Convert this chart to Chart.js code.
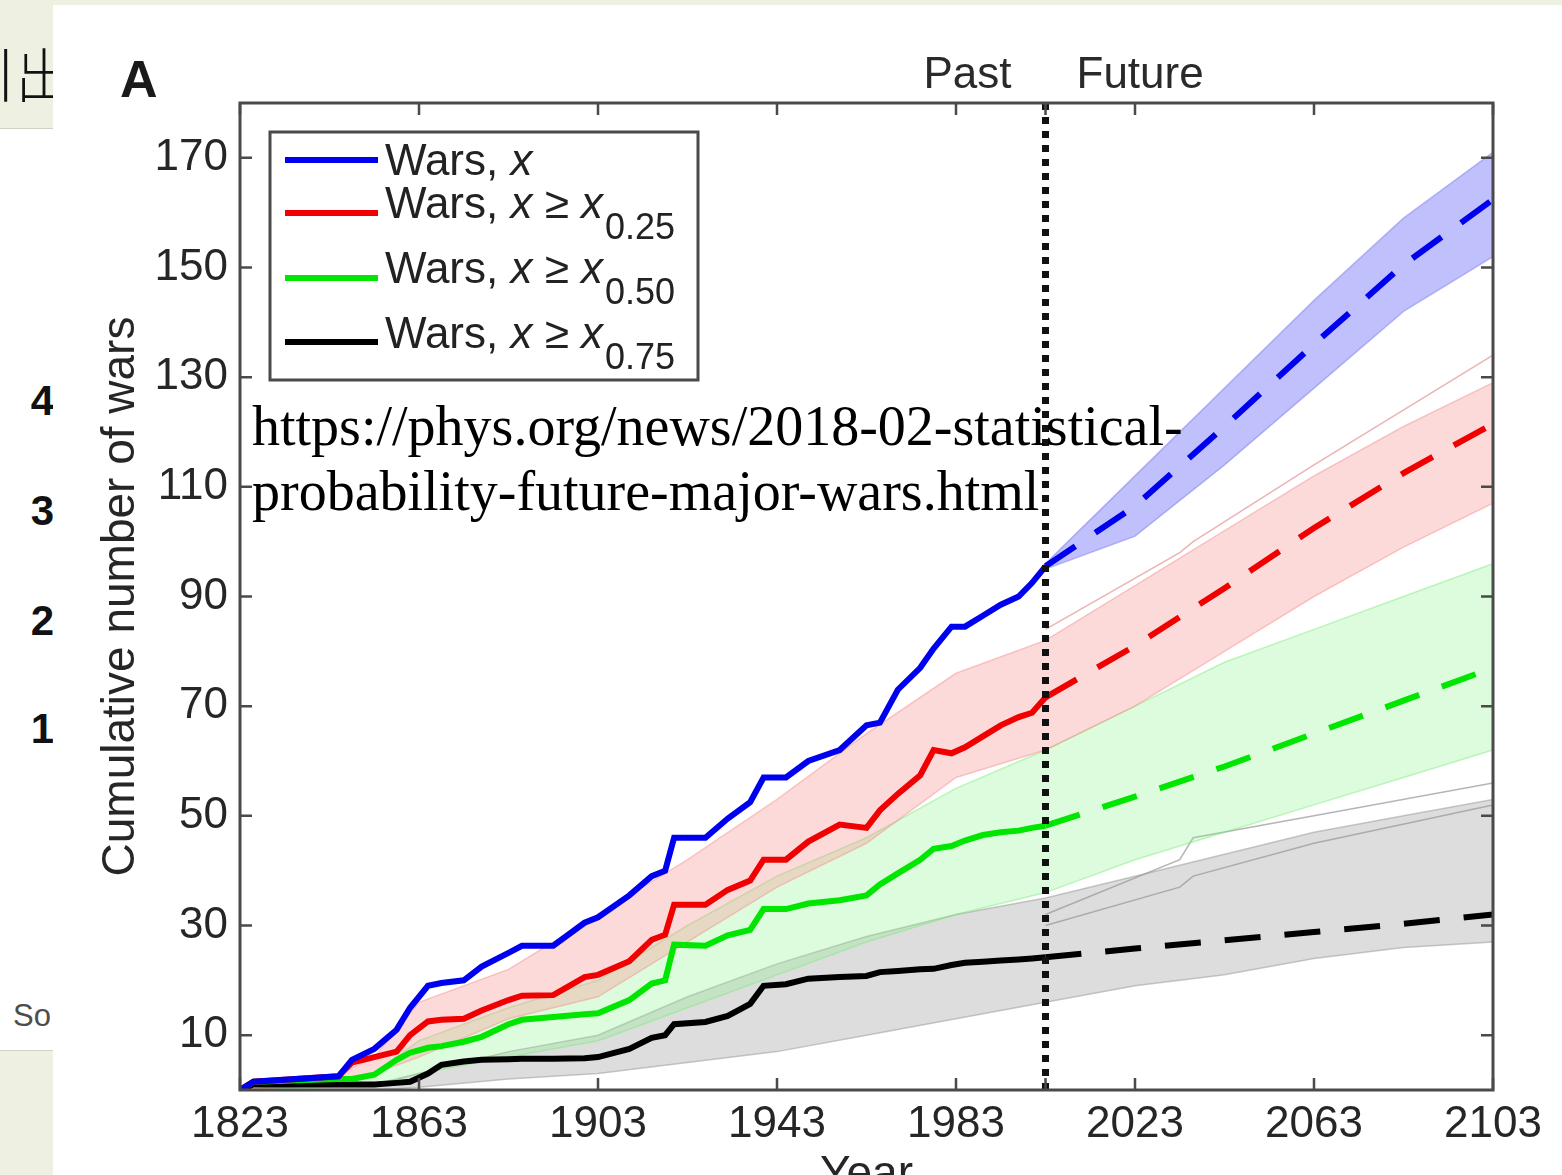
<!DOCTYPE html>
<html lang="en">
<head>
    <meta charset="UTF-8">
    <title>Cumulative number of wars</title>
    <script src="https://cdn.jsdelivr.net/npm/chart.js"></script>
    <style>
        html, body {
            margin: 0;
            padding: 0;
            width: 1562px;
            height: 1175px;
            overflow: hidden;
            background: #ffffff;
            font-family: "Liberation Sans", Arial, sans-serif;
        }
        .beige { position: absolute; background: #eef1e2; }
        #topStrip { left: 0; top: 0; width: 1562px; height: 5px; }
        #leftTop { left: 0; top: 0; width: 53px; height: 128px; border-bottom: 1px solid #cfd2c4; overflow: hidden; }
        #leftBottom { left: 0; top: 1050px; width: 53px; height: 125px; border-top: 1px solid #cfd2c4; }
        #koTitle {
            position: absolute; left: -38px; top: 30px;
            font-family: "Noto Sans CJK KR", sans-serif; font-weight: 300;
            font-size: 58px; color: #111; white-space: nowrap;
        }
        .num {
            position: absolute; left: 0; width: 54px; text-align: right;
            font-weight: bold; font-size: 42px; color: #111; overflow: hidden;
        }
        #so { position: absolute; left: 13px; top: 998px; font-size: 31px; color: #4d4d4d; }
        #panel { position: absolute; left: 53px; top: 5px; width: 1509px; height: 1170px; background: #fff; }
        #wrap { position: absolute; left: 0; top: 0; width: 1562px; height: 1175px; }
        #url {
            position: absolute; left: 252px; top: 394px;
            font-family: "Liberation Serif", "Times New Roman", serif;
            font-size: 56px; line-height: 65px; color: #000; white-space: nowrap;
        }
    </style>
</head>
<body>
    <div class="beige" id="topStrip"></div>
    <div class="beige" id="leftTop"><div id="koTitle">기出</div></div>
    <div class="num" style="top:377px">4</div>
    <div class="num" style="top:487px">3</div>
    <div class="num" style="top:597px">2</div>
    <div class="num" style="top:705px">1</div>
    <div id="so">So</div>
    <div class="beige" id="leftBottom"></div>
    <div id="panel"></div>
    <div id="wrap"><canvas id="warsChart"></canvas></div>
    <div id="url">https://phys.org/news/2018-02-statistical-<br>probability-future-major-wars.html</div>

    <script>
        // axis ticks
        const xTickValues = [1823, 1863, 1903, 1943, 1983, 2023, 2063, 2103];
        const yTickValues = [10, 30, 50, 70, 90, 110, 130, 150, 170];
        const splitYear = 2003;

        // observed (past) cumulative counts
        const pastYears = [1823, 1826, 1845, 1848, 1853, 1858, 1861, 1865, 1868, 1873, 1877, 1883, 1886, 1893,
            1900, 1903, 1910, 1915, 1918, 1920, 1927, 1932, 1937, 1940, 1945, 1950, 1957, 1963, 1966, 1970,
            1975, 1978, 1982, 1985, 1989, 1993, 1997, 2000, 2003];
        const pastAll = [0, 1.5, 2.5, 5.5, 7.5, 11, 15, 19, 19.5, 20, 22.5, 25, 26.3, 26.3,
            30.5, 31.5, 35.5, 39, 40, 46, 46, 49.5, 52.5, 57, 57, 60, 62, 66.5, 67, 73,
            77, 80.5, 84.5, 84.5, 86.5, 88.5, 90, 92.5, 95.5];
        const pastQ25 = [0, 1.5, 2.5, 5, 6, 7, 10, 12.5, 12.8, 13, 14.5, 16.4, 17.2, 17.3,
            20.6, 21, 23.5, 27.4, 28.3, 33.8, 33.8, 36.5, 38.2, 42, 42, 45.3, 48.4, 47.8, 51, 54,
            57.4, 62, 61.4, 62.5, 64.5, 66.5, 68, 68.8, 71.6];
        const pastQ50 = [0, 1.5, 2, 2, 2.8, 5.5, 6.8, 7.7, 8, 8.8, 9.7, 12, 12.8, 13.3,
            13.8, 14, 16.4, 19.4, 20, 26.5, 26.3, 28.2, 29.2, 33, 33, 34, 34.6, 35.5, 37.5, 39.5,
            42, 44, 44.5, 45.5, 46.5, 47, 47.3, 47.8, 48.2];
        const pastQ75 = [0, 1, 1, 1, 1, 1.3, 1.5, 3, 4.6, 5.2, 5.5, 5.6, 5.7, 5.7,
            5.8, 6, 7.5, 9.5, 10, 12, 12.4, 13.5, 15.7, 19, 19.3, 20.3, 20.6, 20.8, 21.5, 21.7,
            22, 22.1, 22.8, 23.2, 23.4, 23.6, 23.8, 24, 24.2];

        // projected (future) mean
        const futureYears = [2003, 2023, 2043, 2063, 2083, 2103];
        const futureAll = [95.5, 106.5, 121, 136, 150.5, 162.4];
        const futureQ25 = [71.6, 81, 91.5, 102.5, 112.5, 121.5];
        const futureQ50 = [48.2, 53.5, 59, 65, 71, 77];
        const futureQ75 = [24.2, 25.8, 27.3, 28.8, 30.3, 32];

        // spread of the simulated trajectories
        const bandYears = [1823, 1843, 1853, 1863, 1883, 1903, 1923, 1943, 1963, 1983, 2003, 2023, 2043, 2063, 2083, 2103];
        const allHigh = [96, 112, 128, 144, 159, 171];
        const allLow = [95, 101, 114, 128, 142, 152];
        const q25High = [0, 2, 6, 16, 22, 32, 42, 53, 65, 76, 82, 92, 102, 112, 121, 129];
        const q25Low = [0, 1, 3, 6, 13, 17, 27, 37, 45, 57, 62, 70, 80, 90, 99, 107];
        const q50High = [0, 1.5, 3, 9, 15, 20, 30, 39, 46, 55, 62, 70, 78, 84, 90, 96];
        const q50Low = [0, 0.5, 1, 3, 6, 9, 15, 21, 27, 32, 36, 42, 47, 52, 57, 62];
        const q75High = [0, 1, 1, 3, 7, 10, 17, 23, 28, 32, 35, 39, 43, 47, 50, 53];
        const q75Low = [0, 0, 0, 0.5, 2, 3, 5, 7, 10, 13, 16, 19, 21, 24, 26, 27];

        // a few stray simulated runs
        const strayYears = [2003, 2033, 2036, 2063, 2103];
        const strayGreyA = [32, 42, 46, 50, 56];
        const strayGreyB = [30, 37, 39, 45, 52];
        const strayRed = [84, 98, 100, 114, 134];

        const BLUE = "#0000f0", RED = "#f00000", GREEN = "#00e600", BLACK = "#000000";
        const FONT = "'Liberation Sans', Arial, sans-serif";

        function pts(xs, ys) {
            return xs.map((x, i) => ({ x: x, y: ys[i] }));
        }

        const datasets = [];
        function addLine(xs, ys, color, width, dash, order) {
            datasets.push({
                data: pts(xs, ys), borderColor: color, borderWidth: width, borderDash: dash || [],
                pointRadius: 0, fill: false, order: order, tension: 0
            });
        }
        function addBand(xs, lo, hi, edge, fillColor, order) {
            const idx = datasets.length;
            datasets.push({ data: pts(xs, lo), borderColor: edge, borderWidth: 1.5, pointRadius: 0, fill: false, order: order });
            datasets.push({ data: pts(xs, hi), borderColor: edge, borderWidth: 1.5, pointRadius: 0,
                fill: { target: idx }, backgroundColor: fillColor, order: order });
        }

        addBand(bandYears, q75Low, q75High, "rgba(150,150,150,0.5)", "rgba(160,160,160,0.36)", 40);
        addBand(bandYears, q50Low, q50High, "rgba(120,235,120,0.45)", "rgba(130,245,130,0.27)", 30);
        addBand(bandYears, q25Low, q25High, "rgba(245,140,140,0.45)", "rgba(250,140,140,0.32)", 20);
        addBand(futureYears, allLow, allHigh, "rgba(140,140,240,0.6)", "rgba(130,130,250,0.5)", 10);
        addLine(strayYears, strayGreyA, "rgba(150,150,150,0.7)", 1.5, null, 35);
        addLine(strayYears, strayGreyB, "rgba(150,150,150,0.7)", 1.5, null, 35);
        addLine(strayYears, strayRed, "rgba(230,160,160,0.8)", 1.5, null, 15);

        addLine(pastYears, pastQ75, BLACK, 6, null, 4);
        addLine(pastYears, pastQ50, GREEN, 6, null, 3);
        addLine(pastYears, pastQ25, RED, 6, null, 2);
        addLine(pastYears, pastAll, BLUE, 6, null, 1);
        addLine(futureYears, futureQ75, BLACK, 6, [36, 24], 4);
        addLine(futureYears, futureQ50, GREEN, 6, [36, 24], 3);
        addLine(futureYears, futureQ25, RED, 6, [36, 24], 2);
        addLine(futureYears, futureAll, BLUE, 6, [36, 24], 1);
        // past / future divider
        addLine([splitYear, splitYear], [0, 180], "#111", 7, [7, 7], 0);

        const legendItems = [
            { color: BLUE, sub: null },
            { color: RED, sub: "0.25" },
            { color: GREEN, sub: "0.50" },
            { color: BLACK, sub: "0.75" }
        ];

        const framePlugin = {
            id: "frame",
            afterDraw(chart) {
                const ctx = chart.ctx;
                const ca = chart.chartArea;
                const xs = chart.scales.x, ys = chart.scales.y;
                ctx.save();
                ctx.strokeStyle = "#4a4a4a";
                ctx.lineWidth = 3;
                ctx.strokeRect(ca.left, ca.top, ca.right - ca.left, ca.bottom - ca.top);
                ctx.lineWidth = 2.5;
                const tl = 12;
                ctx.beginPath();
                xTickValues.concat([splitYear]).forEach(v => {
                    const px = xs.getPixelForValue(v);
                    ctx.moveTo(px, ca.bottom); ctx.lineTo(px, ca.bottom - tl);
                    ctx.moveTo(px, ca.top); ctx.lineTo(px, ca.top + tl);
                });
                yTickValues.forEach(v => {
                    const py = ys.getPixelForValue(v);
                    ctx.moveTo(ca.left, py); ctx.lineTo(ca.left + tl, py);
                    ctx.moveTo(ca.right, py); ctx.lineTo(ca.right - tl, py);
                });
                ctx.stroke();

                // panel letter and past / future labels
                ctx.fillStyle = "#1a1a1a";
                ctx.font = "bold 52px " + FONT;
                ctx.textBaseline = "alphabetic";
                ctx.textAlign = "left";
                ctx.fillText("A", ca.left - 120, ca.top - 6);
                const sx = xs.getPixelForValue(splitYear);
                ctx.fillStyle = "#2a2a2a";
                ctx.font = "44px " + FONT;
                ctx.textAlign = "right";
                ctx.fillText("Past", sx - 34, ca.top - 15);
                ctx.textAlign = "left";
                ctx.fillText("Future", sx + 31, ca.top - 15);

                // legend
                const bx = ca.left + 30, by = ca.top + 29, bw = 428, bh = 248;
                ctx.fillStyle = "#fff";
                ctx.fillRect(bx, by, bw, bh);
                ctx.strokeStyle = "#4a4a4a";
                ctx.lineWidth = 3;
                ctx.strokeRect(bx, by, bw, bh);
                const lineYs = [28, 81, 146, 210];
                const textYs = [43, 86, 151, 216];
                legendItems.forEach((item, i) => {
                    ctx.strokeStyle = item.color;
                    ctx.lineWidth = 6;
                    ctx.beginPath();
                    ctx.moveTo(bx + 15, by + lineYs[i]);
                    ctx.lineTo(bx + 108, by + lineYs[i]);
                    ctx.stroke();
                    let tx = bx + 115;
                    const ty = by + textYs[i];
                    ctx.fillStyle = "#222";
                    ctx.textAlign = "left";
                    const parts = item.sub ? [["Wars, ", false], ["x", true], [" \u2265 ", false], ["x", true]]
                                           : [["Wars, ", false], ["x", true]];
                    parts.forEach(p => {
                        ctx.font = (p[1] ? "italic " : "") + "44px " + FONT;
                        ctx.fillText(p[0], tx, ty);
                        tx += ctx.measureText(p[0]).width;
                    });
                    if (item.sub) {
                        ctx.font = "36px " + FONT;
                        ctx.fillText(item.sub, tx + 2, ty + 21);
                    }
                });
                ctx.restore();
            }
        };

        const tickFont = { family: FONT, size: 44 };
        const titleFont = { family: FONT, size: 46 };

        new Chart(document.getElementById("warsChart").getContext("2d"), {
            type: "line",
            data: { datasets: datasets },
            options: {
                responsive: true,
                maintainAspectRatio: false,
                animation: false,
                layout: { padding: { left: 90, top: 103, right: 69, bottom: 0 } },
                plugins: {
                    legend: { display: false },
                    tooltip: { enabled: false }
                },
                scales: {
                    x: {
                        type: "linear",
                        min: 1823,
                        max: 2103,
                        afterBuildTicks: s => { s.ticks = xTickValues.map(v => ({ value: v })); },
                        afterFit: s => { s.height = 85; },
                        grid: { display: false, drawTicks: false },
                        border: { display: false },
                        ticks: { font: tickFont, color: "#262626", padding: 8, maxRotation: 0, autoSkip: false,
                                 callback: v => String(v) },
                        title: { display: true, text: "Year", font: titleFont, color: "#262626",
                                 padding: { top: 0, bottom: -28 } }
                    },
                    y: {
                        min: 0,
                        max: 180,
                        afterBuildTicks: s => { s.ticks = yTickValues.map(v => ({ value: v })); },
                        afterFit: s => { s.width = 150; },
                        grid: { display: false, drawTicks: false },
                        border: { display: false },
                        ticks: { font: tickFont, color: "#262626", padding: 12, autoSkip: false },
                        title: { display: true, text: "Cumulative number of wars", font: titleFont, color: "#262626",
                                 padding: { top: 4, bottom: 0 } }
                    }
                }
            },
            plugins: [framePlugin]
        });
    </script>
</body>
</html>
